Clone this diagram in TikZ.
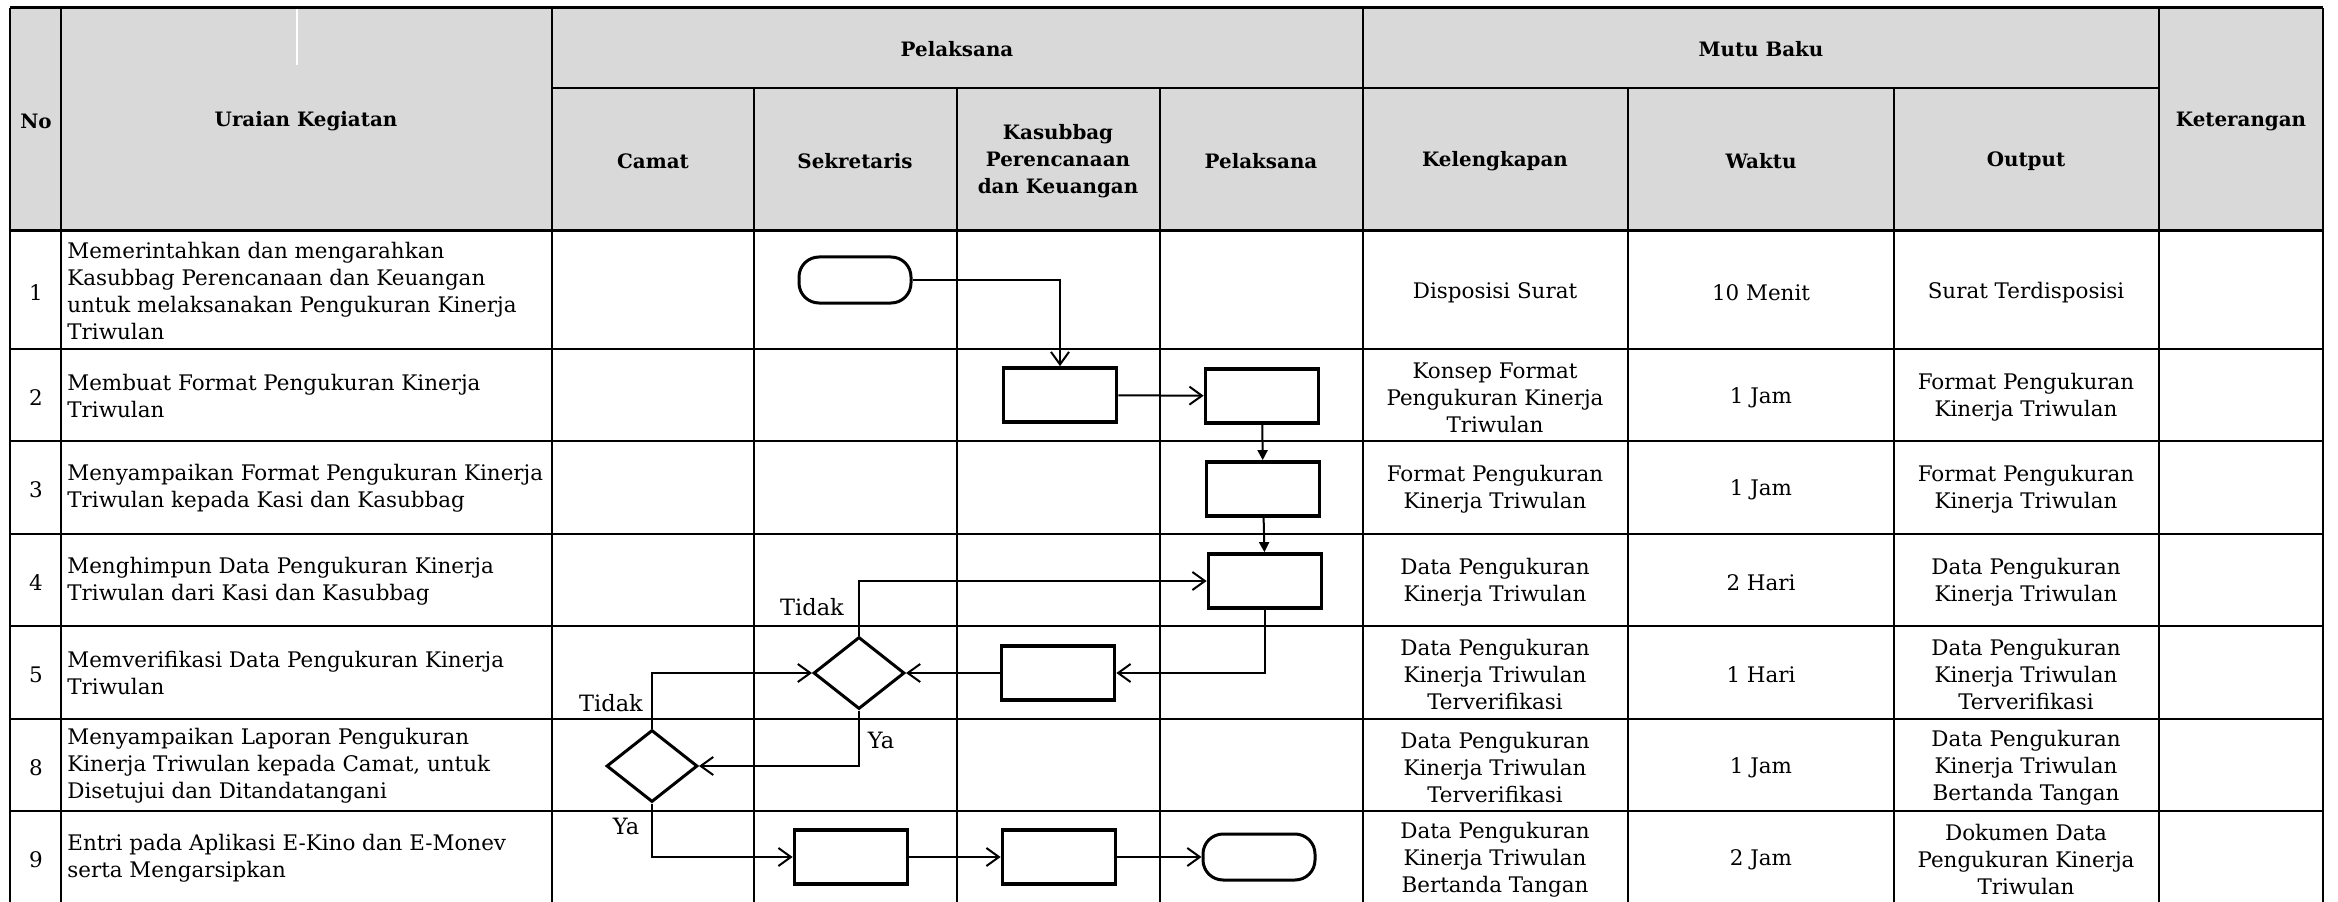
\documentclass[tikz,border=0pt]{standalone}
\usepackage{fontspec}
\setmainfont{DejaVu Serif}
\usepackage{xcolor}
\definecolor{CHead}{HTML}{D9D9D9}
\usepackage{tikz}
\usetikzlibrary{arrows.meta,shapes.geometric}
\tikzstyle{procNode}=[rectangle, draw=black, line width=0.75mm, minimum width=22.6mm,
  minimum height=10.8mm, inner sep=0pt]
\tikzstyle{termNode}=[rectangle, rounded corners=4mm, draw=black, line width=0.6mm,
  minimum width=22.4mm, minimum height=9.2mm, inner sep=0pt]
\tikzstyle{decNode}=[diamond, draw=black, line width=0.6mm, minimum width=18.2mm,
  minimum height=14.4mm, inner sep=0pt]
\tikzstyle{headText}=[align=center, inner sep=0pt, yshift=-0.3mm, font=\bfseries\fontsize{11.3}{15.4}\selectfont]
\tikzstyle{cellText}=[align=center, inner sep=0pt, yshift=-0.5mm, font=\fontsize{12.2}{15.4}\selectfont]
\tikzstyle{descText}=[align=left, anchor=west, inner sep=0pt, yshift=-0.2mm, font=\fontsize{12.2}{15.4}\selectfont]
\tikzstyle{lblText}=[inner sep=0pt, font=\fontsize{12.8}{15.4}\selectfont]
\tikzstyle{gridT}=[line width=0.6mm]
\tikzstyle{gridH}=[line width=0.5mm]
\tikzstyle{gridV}=[line width=0.4mm]
\tikzstyle{arr}=[-{Straight Barb[length=2.5mm, width=3.6mm]}, line width=0.4mm]
\tikzstyle{arrFill}=[-{Triangle[length=2mm, width=2mm]}, line width=0.4mm]

\begin{document}
\begin{tikzpicture}[x=0.2mm, y=-0.2mm]
\useasboundingbox (0,0) rectangle (2338,902);
\fill[CHead] (10,8) rectangle (2323,231);
\draw[white, line width=0.3mm] (297,9) -- (297,65);

% table grid
\draw[gridT] (10,8) -- (2323,8);
\draw[gridH] (552,88) -- (2159,88);
\draw[gridT] (10,231) -- (2323,231);
\draw[gridH] (10,349) -- (2323,349);
\draw[gridH] (10,441) -- (2323,441);
\draw[gridH] (10,534) -- (2323,534);
\draw[gridH] (10,626) -- (2323,626);
\draw[gridH] (10,719) -- (2323,719);
\draw[gridH] (10,811) -- (2323,811);
\draw[gridV] (10,8) -- (10,902);
\draw[gridV] (61,8) -- (61,902);
\draw[gridV] (552,8) -- (552,902);
\draw[gridV] (754,88) -- (754,902);
\draw[gridV] (957,88) -- (957,902);
\draw[gridV] (1160,88) -- (1160,902);
\draw[gridV] (1363,8) -- (1363,902);
\draw[gridV] (1628,88) -- (1628,902);
\draw[gridV] (1894,88) -- (1894,902);
\draw[gridV] (2159,8) -- (2159,902);
\draw[gridV] (2323,8) -- (2323,902);

% header
\node[headText] (hNo) at (36,120) {No};
\node[headText] (hUraian) at (306,120) {Uraian Kegiatan};
\node[headText] (hPelaksana) at (957,48) {Pelaksana};
\node[headText] (hMutu) at (1761,48) {Mutu Baku};
\node[headText] (hKet) at (2241,120) {Keterangan};
\node[headText] (hCamat) at (653,160) {Camat};
\node[headText] (hSekretaris) at (855,160) {Sekretaris};
\node[headText] (hKasubbag) at (1058,160) {Kasubbag\\Perencanaan\\dan Keuangan};
\node[headText] (hPel) at (1261,160) {Pelaksana};
\node[headText] (hLengkap) at (1495,160) {Kelengkapan};
\node[headText] (hWaktu) at (1761,160) {Waktu};
\node[headText] (hOutput) at (2026,160) {Output};

% rows
\node[cellText] (n1) at (36,290) {1};
\node[descText] (d1) at (67,290) {Memerintahkan dan mengarahkan\\Kasubbag Perencanaan dan Keuangan\\untuk melaksanakan Pengukuran Kinerja\\Triwulan};
\node[cellText] (k1) at (1495,290) {Disposisi Surat};
\node[cellText] (w1) at (1761,290) {10 Menit};
\node[cellText] (o1) at (2026,290) {Surat Terdisposisi};

\node[cellText] (n2) at (36,395) {2};
\node[descText] (d2) at (67,395) {Membuat Format Pengukuran Kinerja\\Triwulan};
\node[cellText] (k2) at (1495,395) {Konsep Format\\Pengukuran Kinerja\\Triwulan};
\node[cellText] (w2) at (1761,395) {1 Jam};
\node[cellText] (o2) at (2026,395) {Format Pengukuran\\Kinerja Triwulan};

\node[cellText] (n3) at (36,487) {3};
\node[descText] (d3) at (67,487) {Menyampaikan Format Pengukuran Kinerja\\Triwulan kepada Kasi dan Kasubbag};
\node[cellText] (k3) at (1495,487) {Format Pengukuran\\Kinerja Triwulan};
\node[cellText] (w3) at (1761,487) {1 Jam};
\node[cellText] (o3) at (2026,487) {Format Pengukuran\\Kinerja Triwulan};

\node[cellText] (n4) at (36,580) {4};
\node[descText] (d4) at (67,580) {Menghimpun Data Pengukuran Kinerja\\Triwulan dari Kasi dan Kasubbag};
\node[cellText] (k4) at (1495,580) {Data Pengukuran\\Kinerja Triwulan};
\node[cellText] (w4) at (1761,580) {2 Hari};
\node[cellText] (o4) at (2026,580) {Data Pengukuran\\Kinerja Triwulan};

\node[cellText] (n5) at (36,672) {5};
\node[descText] (d5) at (67,672) {Memverifikasi Data Pengukuran Kinerja\\Triwulan};
\node[cellText] (k5) at (1495,672) {Data Pengukuran\\Kinerja Triwulan\\Terverifikasi};
\node[cellText] (w5) at (1761,672) {1 Hari};
\node[cellText] (o5) at (2026,672) {Data Pengukuran\\Kinerja Triwulan\\Terverifikasi};

\node[cellText] (n8) at (36,765) {8};
\node[descText] (d8) at (67,765) {Menyampaikan Laporan Pengukuran\\Kinerja Triwulan kepada Camat, untuk\\Disetujui dan Ditandatangani};
\node[cellText] (k8) at (1495,765) {Data Pengukuran\\Kinerja Triwulan\\Terverifikasi};
\node[cellText] (w8) at (1761,765) {1 Jam};
\node[cellText] (o8) at (2026,765) {Data Pengukuran\\Kinerja Triwulan\\Bertanda Tangan};

\node[cellText] (n9) at (36,857) {9};
\node[descText] (d9) at (67,857) {Entri pada Aplikasi E-Kino dan E-Monev\\serta Mengarsipkan};
\node[cellText] (k9) at (1495,857) {Data Pengukuran\\Kinerja Triwulan\\Bertanda Tangan};
\node[cellText] (w9) at (1761,857) {2 Jam};
\node[cellText] (o9) at (2026,857) {Dokumen Data\\Pengukuran Kinerja\\Triwulan};

% flow
\node[termNode] (mulai) at (855,280) {};
\node[procNode] (konsep) at (1060,395) {};
\node[procNode] (format) at (1262,396) {};
\node[procNode] (kirim) at (1263,489) {};
\node[procNode] (himpun) at (1265,581) {};
\node[procNode] (verif) at (1058,673) {};
\node[decNode] (cekSek) at (859,673) {};
\node[decNode] (cekCamat) at (652,766) {};
\node[procNode] (entri) at (851,857) {};
\node[procNode] (arsip) at (1059,857) {};
\node[termNode] (selesai) at (1259,857) {};

\node[lblText] (tidakA) at (812,607) {Tidak};
\node[lblText] (yaA) at (881,740) {Ya};
\node[lblText] (tidakB) at (611,703) {Tidak};
\node[lblText] (yaB) at (626,826) {Ya};

\draw[arr] (mulai.east) -| (konsep.north);
\draw[arr] (konsep) -- (format);
\draw[arrFill] (format) -- (kirim);
\draw[arrFill] (kirim) -- (himpun);
\draw[arr] (himpun.south) |- (verif.east);
\draw[arr] (verif) -- (cekSek);
\draw[arr] (cekSek.north) |- (himpun.west);
\draw[arr] (cekSek.south) |- (cekCamat.east);
\draw[arr] (cekCamat.north) |- (cekSek.west);
\draw[arr] (cekCamat.south) |- (entri.west);
\draw[arr] (entri) -- (arsip);
\draw[arr] (arsip) -- (selesai);
\end{tikzpicture}
\end{document}
